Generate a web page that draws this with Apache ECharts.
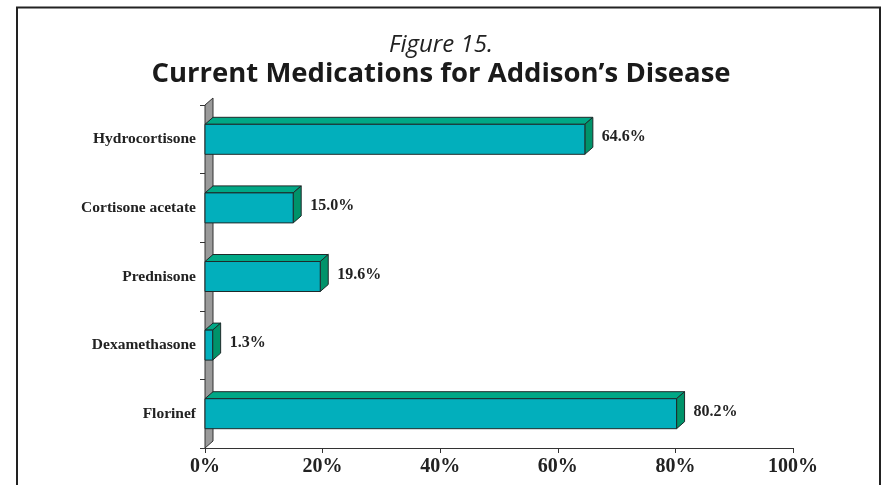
<!DOCTYPE html>
<html>
<head>
<meta charset="utf-8">
<script src="https://cdn.jsdelivr.net/npm/echarts@6/dist/echarts.min.js"></script>
<style>
  html, body { margin: 0; padding: 0; background: #fff; }
  #chart { width: 882px; height: 485px; }
</style>
</head>
<body>
<div id="chart"></div>
<script>
const categories = ["Hydrocortisone", "Cortisone acetate", "Prednisone", "Dexamethasone", "Florinef"];
const percents = [64.6, 15.0, 19.6, 1.3, 80.2];
const xTicks = [0, 20, 40, 60, 80, 100];

const depthX = 8, depthY = 7, barH = 30;
const serif = "'Liberation Serif', 'Times New Roman', serif";

const chart = echarts.init(document.getElementById("chart"));

const option = {
  backgroundColor: "#fff",
  animation: false,
  title: [
    {
      text: "Figure 15.",
      left: "center",
      top: 28,
      textStyle: { fontFamily: "Open Sans", fontStyle: "italic", fontWeight: "normal", fontSize: 24, color: "#222" }
    },
    {
      text: "Current Medications for Addison\u2019s Disease",
      left: "center",
      top: 55,
      textStyle: { fontFamily: "Open Sans", fontWeight: "bold", fontSize: 27.5, color: "#1a1a1a" }
    }
  ],
  graphic: [
    {
      type: "polyline",
      shape: { points: [[17, 485], [17, 7.5], [880, 7.5], [880, 485]] },
      style: { stroke: "#222", lineWidth: 2, fill: null }
    }
  ],
  grid: { left: 205, right: 89, top: 105, bottom: 37 },
  xAxis: {
    type: "value",
    min: 0,
    max: 100,
    interval: 20,
    axisLine: { show: true, lineStyle: { color: "#333", width: 1 } },
    axisTick: { show: true, length: 5, lineStyle: { color: "#333" } },
    splitLine: { show: false },
    axisLabel: {
      formatter: v => xTicks.includes(v) ? v + "%" : "",
      fontFamily: serif, fontWeight: "bold", fontSize: 20, color: "#222", margin: 9
    }
  },
  yAxis: {
    type: "category",
    data: categories,
    inverse: true,
    axisLine: { show: true, lineStyle: { color: "#333", width: 1 } },
    axisTick: { show: true, length: 5, lineStyle: { color: "#333" } },
    axisLabel: { fontFamily: serif, fontWeight: "bold", fontSize: 15.5, color: "#222", margin: 9 }
  },
  series: [
    {
      // grey 3D side wall
      type: "custom",
      z: 1,
      data: [0],
      renderItem(params, api) {
        const cs = params.coordSys;
        const x = cs.x, top = cs.y, bot = cs.y + cs.height;
        return {
          type: "polygon",
          shape: { points: [[x, bot], [x, top], [x + depthX, top - depthY], [x + depthX, bot - depthY]] },
          style: { fill: "#9a9a9a", stroke: "#333", lineWidth: 1 }
        };
      }
    },
    {
      type: "custom",
      z: 3,
      data: percents.map((v, i) => [v, i]),
      encode: { x: 0, y: 1 },
      renderItem(params, api) {
        const v = api.value(0), c = api.value(1);
        const p0 = api.coord([0, c]);
        const p1 = api.coord([v, c]);
        const x0 = p0[0], x1 = p1[0];
        const y0 = p0[1] - barH / 2, y1 = p0[1] + barH / 2;
        const line = { stroke: "#1e2a2a", lineWidth: 1 };
        return {
          type: "group",
          children: [
            {
              type: "polygon",
              shape: { points: [[x0, y0], [x0 + depthX, y0 - depthY], [x1 + depthX, y0 - depthY], [x1, y0]] },
              style: Object.assign({ fill: "#00a886" }, line)
            },
            {
              type: "polygon",
              shape: { points: [[x1, y0], [x1 + depthX, y0 - depthY], [x1 + depthX, y1 - depthY], [x1, y1]] },
              style: Object.assign({ fill: "#00936a" }, line)
            },
            {
              type: "rect",
              shape: { x: x0, y: y0, width: x1 - x0, height: barH },
              style: Object.assign({ fill: "#02afbc" }, line)
            },
            {
              type: "text",
              style: {
                text: v.toFixed(1) + "%",
                x: x1 + depthX + 9,
                y: p0[1] - 2,
                textAlign: "left",
                textVerticalAlign: "middle",
                font: "bold 16px " + serif,
                fill: "#222"
              }
            }
          ]
        };
      }
    }
  ]
};

chart.setOption(option);
</script>
</body>
</html>
